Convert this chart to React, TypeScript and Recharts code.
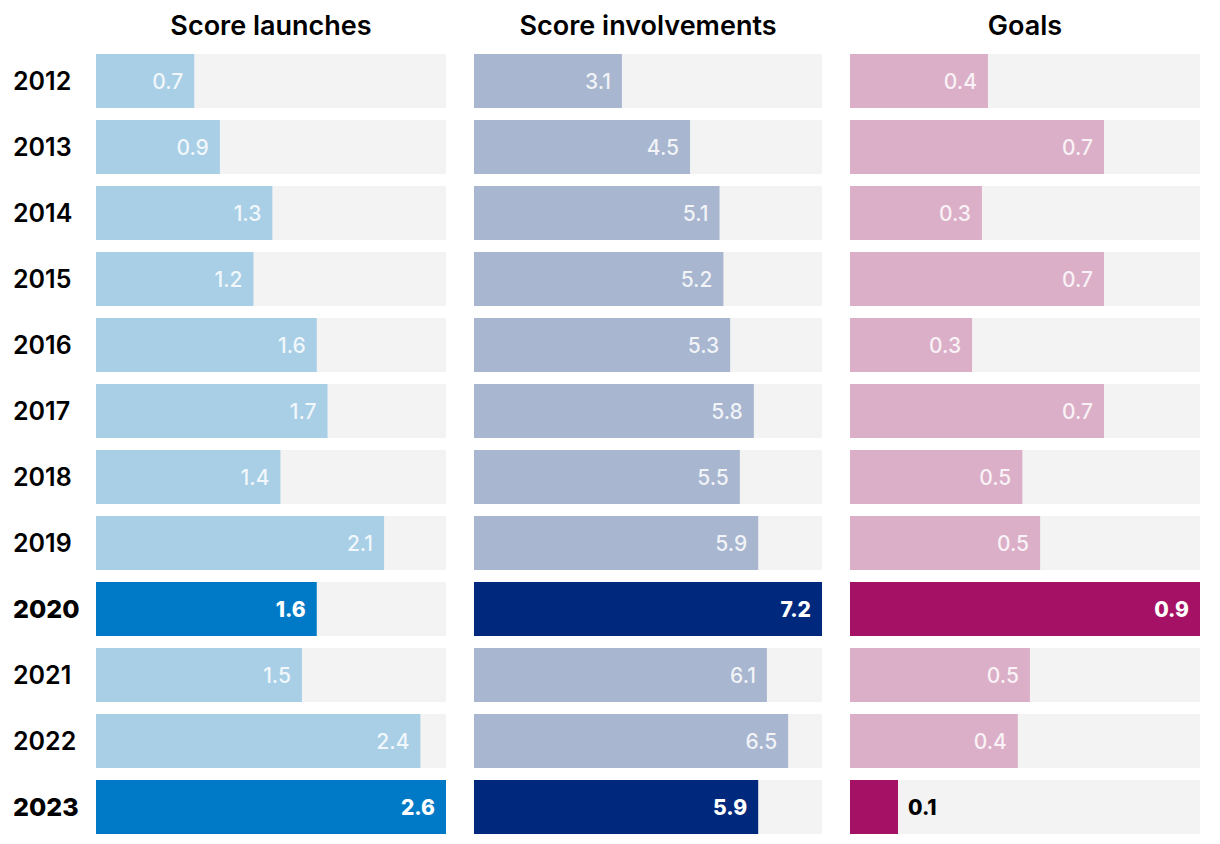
import React from 'react';
import { BarChart, Bar, XAxis, YAxis, Cell, LabelList } from 'recharts';

const years = ['2012', '2013', '2014', '2015', '2016', '2017', '2018', '2019', '2020', '2021', '2022', '2023'];
const launches = [0.73, 0.92, 1.31, 1.17, 1.64, 1.72, 1.37, 2.14, 1.64, 1.53, 2.41, 2.6];
const involvements = [3.06, 4.47, 5.08, 5.16, 5.3, 5.79, 5.5, 5.88, 7.2, 6.06, 6.5, 5.88];
const goals = [0.365, 0.672, 0.349, 0.672, 0.323, 0.672, 0.456, 0.503, 0.926, 0.476, 0.444, 0.127];
const highlightYears = ['2020', '2023'];
const titles = ['Score launches', 'Score involvements', 'Goals'];

const FONT = 'Inter, "Open Sans", sans-serif';

const data = years.map((year, i) => ({
  year,
  launches: launches[i],
  involvements: involvements[i],
  goals: goals[i],
}));

const panels = [
  { key: 'launches', light: '#a9cfe6', dark: '#007ac7', left: 0, width: 460, margin: { top: 48, right: 14, bottom: 4, left: 0 }, showY: true, title: titles[0], titleCenter: 271 },
  { key: 'involvements', light: '#a8b6d0', dark: '#00287d', left: 460, width: 380, margin: { top: 48, right: 18, bottom: 4, left: 14 }, showY: false, title: titles[1], titleCenter: 648 },
  { key: 'goals', light: '#dbafc8', dark: '#a51265', left: 840, width: 380, margin: { top: 48, right: 20, bottom: 4, left: 10 }, showY: false, title: titles[2], titleCenter: 1025 },
];

const YearTick = (props: any) => {
  const { y, payload } = props;
  const hl = highlightYears.includes(payload.value);
  return (
    <text x={13} y={y} dy={9} textAnchor="start" fontFamily={FONT} fontSize={25} fontWeight={hl ? 800 : 600} fill="#000">
      {payload.value}
    </text>
  );
};

const makeLabel = () => (props: any) => {
  const { x, y, width, height, value, index } = props;
  const hl = highlightYears.includes(years[index]);
  const text = Number(value).toFixed(1);
  if (width < 60) {
    return (
      <text x={x + width + 10} y={y + height / 2} dy={8} textAnchor="start" fontFamily={FONT} fontSize={21} fontWeight={800} fill="#000">
        {text}
      </text>
    );
  }
  return (
    <text x={x + width - 11} y={y + height / 2} dy={8} textAnchor="end" fontFamily={FONT} fontSize={21} fontWeight={hl ? 800 : 500} fill={hl ? '#ffffff' : 'rgba(255,255,255,0.85)'}>
      {text}
    </text>
  );
};

export default function App() {
  return (
    <div style={{ position: 'absolute', left: 0, top: 0, width: 1220, height: 844, background: '#fff', fontFamily: FONT }}>
      {panels.map((p) => (
        <div key={p.key} style={{ position: 'absolute', left: p.left, top: 0 }}>
          <BarChart width={p.width} height={844} data={data} layout="vertical" margin={p.margin}>
            <XAxis type="number" dataKey={p.key} domain={[0, 'dataMax']} hide />
            <YAxis type="category" dataKey="year" hide={!p.showY} width={p.showY ? 96 : 0} axisLine={false} tickLine={false} tick={<YearTick />} interval={0} />
            <Bar dataKey={p.key} barSize={54} background={{ fill: '#f3f3f3' }} isAnimationActive={false}>
              {data.map((d) => (
                <Cell key={d.year} fill={highlightYears.includes(d.year) ? p.dark : p.light} />
              ))}
              <LabelList dataKey={p.key} content={makeLabel()} />
            </Bar>
          </BarChart>
        </div>
      ))}
      {panels.map((p) => (
        <div
          key={'t' + p.key}
          style={{
            position: 'absolute',
            left: p.titleCenter - 200,
            width: 400,
            top: 9,
            textAlign: 'center',
            fontSize: 27,
            fontWeight: 600,
            color: '#000',
            lineHeight: '34px',
          }}
        >
          {p.title}
        </div>
      ))}
    </div>
  );
}
